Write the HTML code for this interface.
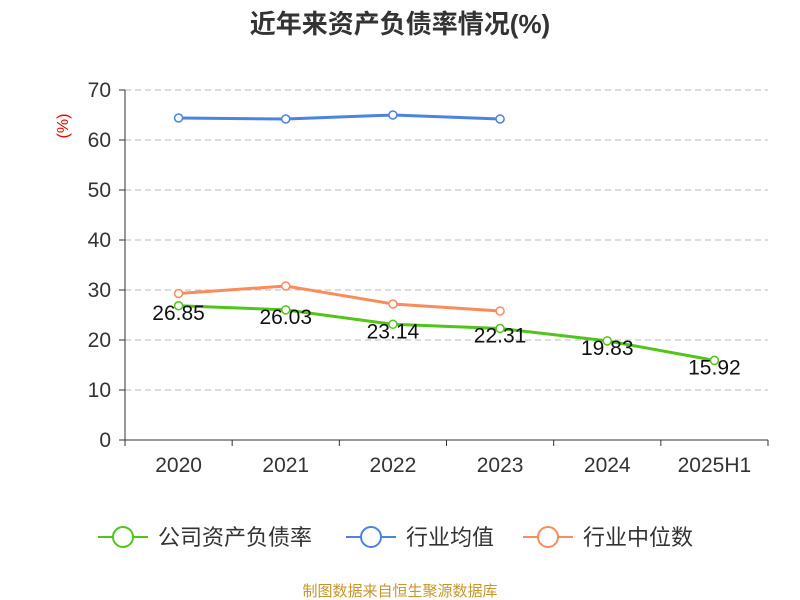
<!DOCTYPE html>
<html><head><meta charset="utf-8">
<style>
html,body{margin:0;padding:0;background:#fff;width:800px;height:600px;overflow:hidden;font-family:"Liberation Sans","Noto Sans CJK SC",sans-serif;}
</style></head>
<body>
<svg id="chart" width="800" height="600" xmlns="http://www.w3.org/2000/svg" font-family="Liberation Sans, Noto Sans CJK SC, sans-serif">
<text x="400" y="33" text-anchor="middle" font-size="26" font-weight="bold" fill="#333">近年来资产负债率情况(%)</text>
<text x="0" y="0" transform="translate(68,126) rotate(-90)" text-anchor="middle" font-size="16" fill="#e00">(%)</text>
<g id="grid"></g><g id="axes"></g><g id="series"></g>
<g>
 <g><line x1="98" y1="537" x2="148" y2="537" stroke="#52c41a" stroke-width="2"/><circle cx="123" cy="537" r="10" fill="#fff" stroke="#52c41a" stroke-width="2"/><text x="158" y="545" font-size="22" fill="#333">公司资产负债率</text></g>
 <g><line x1="346" y1="537" x2="396" y2="537" stroke="#4a84e0" stroke-width="2"/><circle cx="371" cy="537" r="10" fill="#fff" stroke="#4a84e0" stroke-width="2"/><text x="406" y="545" font-size="22" fill="#333">行业均值</text></g>
 <g><line x1="523" y1="537" x2="573" y2="537" stroke="#f98c5a" stroke-width="2"/><circle cx="548" cy="537" r="10" fill="#fff" stroke="#f98c5a" stroke-width="2"/><text x="583" y="545" font-size="22" fill="#333">行业中位数</text></g>
</g>
<text x="400" y="596" text-anchor="middle" font-size="15" fill="#c8962a">制图数据来自恒生聚源数据库</text>
</svg>
<script>
const categories=["2020","2021","2022","2023","2024","2025H1"];
const companyValues=[26.85,26.03,23.14,22.31,19.83,15.92];
const industryAvg=[64.4,64.2,65.0,64.2];
const industryMedian=[29.3,30.8,27.2,25.8];
const yTicks=[0,10,20,30,40,50,60,70];
const NS="http://www.w3.org/2000/svg";
const x0=125,x1=768,yb=440,yt=90,ymax=70;
const bw=(x1-x0)/categories.length;
const X=i=>x0+bw*(i+0.5);
const Y=v=>yb-(v/ymax)*(yb-yt);
function mk(tag,attrs,parent){const e=document.createElementNS(NS,tag);for(const k in attrs)e.setAttribute(k,attrs[k]);document.getElementById(parent).appendChild(e);return e;}
yTicks.forEach(t=>{
 if(t>0){const g=mk('line',{x1:x0,x2:x1,y1:Y(t),y2:Y(t),stroke:'#bbb','stroke-dasharray':'6,4'},'grid');
 
 }
 const tk=mk('line',{x1:x0-6,x2:x0,y1:Y(t),y2:Y(t),stroke:'#333'},'axes');
 
 
 const l=mk('text',{x:x0-14,y:Y(t)+7,'text-anchor':'end','font-size':21,fill:'#333'},'axes');l.textContent=t;
 
 
});
const ya=mk('line',{x1:x0,x2:x0,y1:yt,y2:yb,stroke:'#333'},'axes');


const xa=mk('line',{x1:x0,x2:x1,y1:yb,y2:yb,stroke:'#333'},'axes');


for(let i=0;i<=categories.length;i++){const t=mk('line',{x1:x0+bw*i,x2:x0+bw*i,y1:yb,y2:yb+6,stroke:'#333'},'axes');
 
 }
categories.forEach((c,i)=>{const l=mk('text',{x:X(i),y:yb+32,'text-anchor':'middle','font-size':21,fill:'#333'},'axes');l.textContent=c;
 
 });
function series(vals,color,name,labels){
 const p=mk('polyline',{points:vals.map((v,i)=>X(i)+','+Y(v)).join(' '),fill:'none',stroke:color,'stroke-width':3},'series');
 
 
 vals.forEach((v,i)=>{const c=mk('circle',{cx:X(i),cy:Y(v),r:4,fill:'#fff',stroke:color,'stroke-width':1.5},'series');
  
  
  if(labels){const t=mk('text',{x:X(i),y:Y(v)+14,'text-anchor':'middle','font-size':21,fill:'#111'},'series');t.textContent=v.toFixed(2);
  
  }});
}
series(industryAvg,'#4a84e0','industry-average',false);
series(industryMedian,'#f98c5a','industry-median',false);
series(companyValues,'#52c41a','company',true);
</script>
</body></html>
